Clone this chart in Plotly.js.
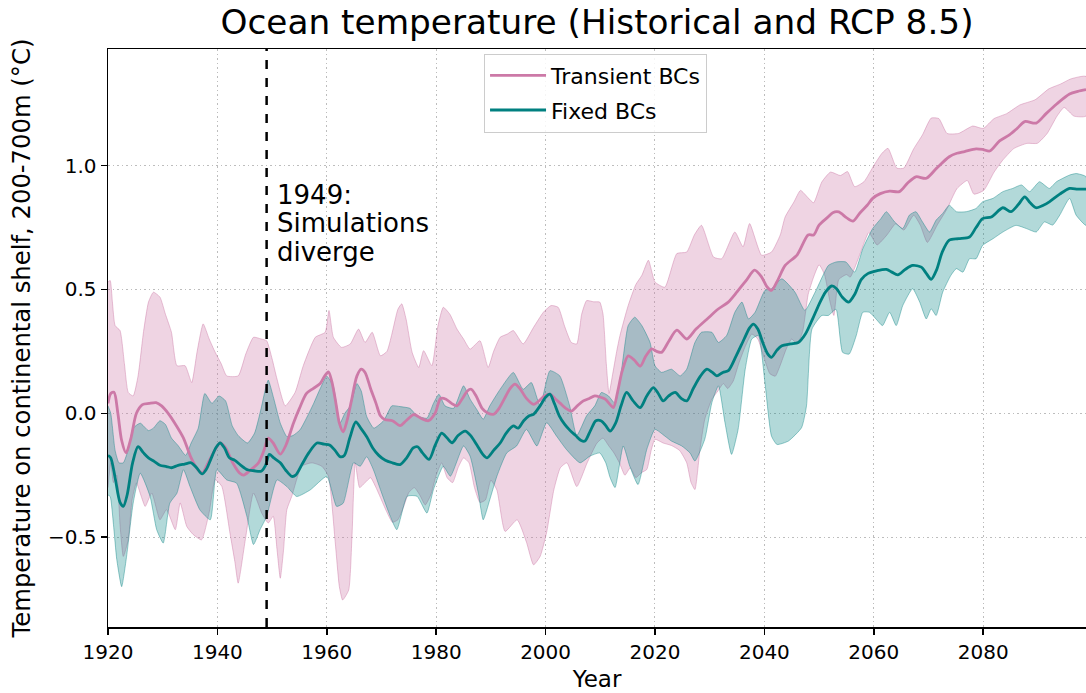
<!DOCTYPE html>
<html>
<head>
<meta charset="utf-8">
<script src="https://cdn.plot.ly/plotly-3.0.1.min.js"></script>
<style>html,body{margin:0;padding:0;background:#fff;}#chart{width:1086px;height:693px;}</style>
</head>
<body>
<div id="chart"></div>
<script>
// ---- Transient BCs (pink) ----
const transientMeanYears = [1920.0,1920.5,1921.1,1921.8,1922.5,1923.3,1924.2,1925.2,1926.3,1927.5,1928.8,1929.8,1931.0,1932.5,1933.8,1935.2,1936.5,1937.3,1938.3,1939.5,1940.5,1941.5,1942.8,1944.0,1944.8,1946.0,1947.5,1948.5,1949.3,1950.2,1951.5,1952.5,1953.9,1955.0,1956.3,1957.5,1958.8,1959.6,1960.3,1960.9,1961.6,1962.3,1963.0,1963.7,1964.5,1965.5,1966.3,1967.0,1968.0,1969.0,1969.8,1970.6,1972.0,1973.4,1974.5,1975.9,1977.2,1978.6,1979.8,1980.8,1981.8,1982.8,1983.8,1984.8,1985.7,1986.4,1987.3,1988.4,1989.5,1990.5,1991.5,1992.5,1993.5,1994.4,1995.3,1996.5,1997.8,1998.8,1999.8,2000.8,2001.7,2002.7,2003.7,2004.7,2005.8,2006.9,2008.0,2009.0,2010.0,2010.9,2011.8,2012.4,2013.2,2014.0,2015.1,2016.2,2017.3,2018.3,2019.4,2020.3,2021.2,2022.5,2024.0,2025.8,2027.5,2029.5,2031.5,2033.4,2035.0,2036.8,2038.2,2039.5,2040.5,2041.3,2042.5,2043.8,2046.0,2048.0,2049.0,2050.0,2051.5,2052.5,2053.6,2055.0,2056.2,2057.5,2058.8,2059.8,2061.2,2062.9,2064.7,2066.2,2067.7,2069.6,2071.5,2073.8,2075.2,2076.6,2078.7,2080.0,2081.2,2083.0,2084.8,2086.2,2087.6,2089.7,2091.5,2093.5,2095.8,2097.3,2098.8];
const transientMean = [0.04,0.08,0.085,0.0,-0.11,-0.16,-0.1,0.0,0.035,0.04,0.043,0.03,0.0,-0.05,-0.1,-0.18,-0.23,-0.24,-0.2,-0.15,-0.12,-0.14,-0.2,-0.24,-0.25,-0.23,-0.2,-0.15,-0.1,-0.12,-0.165,-0.13,-0.04,0.02,0.08,0.1,0.12,0.15,0.167,0.13,0.05,-0.04,-0.075,-0.03,0.05,0.15,0.178,0.165,0.1,0.04,-0.01,-0.025,-0.03,-0.05,-0.03,-0.005,-0.02,-0.03,0.0,0.06,0.057,0.04,0.03,0.06,0.09,0.097,0.07,0.02,0.0,-0.004,0.02,0.06,0.1,0.118,0.1,0.06,0.036,0.05,0.07,0.077,0.06,0.04,0.02,0.009,0.03,0.05,0.06,0.07,0.065,0.057,0.035,0.023,0.09,0.17,0.232,0.215,0.19,0.23,0.26,0.25,0.246,0.29,0.336,0.3,0.34,0.38,0.42,0.449,0.49,0.54,0.578,0.55,0.51,0.496,0.54,0.597,0.64,0.72,0.72,0.76,0.79,0.81,0.813,0.79,0.776,0.81,0.84,0.868,0.887,0.897,0.895,0.93,0.955,0.949,0.99,1.036,1.05,1.057,1.068,1.065,1.059,1.1,1.124,1.15,1.178,1.172,1.21,1.25,1.289,1.3,1.307];

const transientUpperYears = [1920.0,1920.4,1920.8,1921.3,1922.2,1923.0,1923.7,1924.6,1925.5,1926.5,1927.4,1928.3,1929.5,1930.5,1931.6,1932.6,1934.1,1935.3,1936.3,1937.4,1938.5,1939.6,1940.7,1941.7,1943.8,1945.2,1946.6,1948.0,1949.0,1950.0,1950.9,1952.4,1954.2,1955.7,1957.9,1959.7,1960.4,1961.2,1962.7,1964.3,1965.8,1967.0,1968.3,1969.8,1971.0,1971.9,1973.0,1973.7,1974.5,1975.6,1976.8,1977.7,1979.2,1980.3,1981.3,1982.5,1983.8,1985.0,1986.2,1988.0,1989.5,1990.5,1991.7,1993.0,1994.1,1995.9,1997.8,1999.6,2001.0,2002.3,2003.5,2004.7,2005.7,2006.6,2007.5,2008.8,2009.9,2010.5,2011.1,2011.6,2012.2,2013.0,2013.6,2015.1,2016.5,2017.6,2018.8,2020.0,2021.8,2024.0,2025.8,2027.2,2028.5,2030.7,2032.2,2034.6,2036.1,2037.3,2039.5,2041.3,2042.9,2043.8,2045.4,2046.6,2048.0,2049.0,2050.5,2052.1,2053.9,2055.2,2056.5,2058.2,2060.0,2061.5,2062.6,2064.2,2065.5,2067.3,2068.9,2070.5,2071.9,2073.4,2075.5,2078.1,2080.0,2082.0,2084.3,2086.7,2089.5,2092.0,2094.2,2096.0,2098.8];
const transientUpper = [0.53,0.536,0.45,0.354,0.334,0.2,0.084,0.07,0.151,0.33,0.449,0.489,0.469,0.4,0.327,0.192,0.192,0.124,0.25,0.361,0.3,0.246,0.2,0.151,0.151,0.24,0.307,0.3,0.293,0.22,0.138,0.03,0.084,0.192,0.307,0.327,0.415,0.307,0.266,0.28,0.34,0.286,0.327,0.232,0.25,0.32,0.42,0.442,0.38,0.246,0.185,0.253,0.192,0.35,0.428,0.4,0.34,0.3,0.259,0.293,0.185,0.25,0.307,0.32,0.334,0.28,0.347,0.408,0.435,0.428,0.35,0.286,0.28,0.4,0.455,0.45,0.449,0.4,0.2,0.08,0.15,0.25,0.314,0.435,0.52,0.557,0.618,0.53,0.509,0.645,0.651,0.72,0.759,0.631,0.624,0.732,0.672,0.766,0.638,0.651,0.72,0.793,0.853,0.9,0.87,0.85,0.934,0.974,0.96,0.976,0.915,0.935,1.0,1.05,1.07,0.99,0.99,1.068,1.124,1.192,1.19,1.13,1.13,1.16,1.15,1.19,1.21,1.245,1.266,1.31,1.33,1.35,1.36];

const transientLowerYears = [1920.0,1920.5,1921.0,1921.6,1922.2,1922.8,1923.7,1924.4,1925.2,1926.0,1926.8,1928.0,1929.5,1930.7,1932.3,1933.2,1934.4,1935.6,1937.1,1938.5,1939.6,1940.8,1942.3,1943.2,1943.8,1945.1,1946.6,1948.1,1949.3,1950.2,1950.9,1951.5,1952.1,1952.7,1953.6,1955.4,1957.3,1959.1,1960.3,1961.5,1962.3,1962.9,1964.0,1964.6,1965.2,1966.0,1967.0,1968.0,1969.0,1970.0,1971.0,1972.0,1973.0,1974.0,1975.0,1976.0,1977.0,1978.0,1979.0,1980.0,1981.0,1982.0,1983.0,1984.0,1985.0,1986.0,1987.0,1988.0,1989.0,1990.0,1991.1,1992.6,1994.8,1996.5,1997.8,1999.0,2000.2,2001.5,2002.7,2003.9,2005.7,2007.6,2009.4,2010.5,2011.5,2012.5,2013.5,2014.5,2015.5,2016.5,2017.5,2018.5,2019.3,2020.0,2021.5,2023.0,2024.5,2025.8,2026.6,2027.3,2028.2,2029.1,2030.4,2031.5,2032.5,2033.3,2034.3,2035.3,2036.5,2037.7,2038.8,2040.0,2041.0,2042.0,2043.0,2044.0,2045.0,2046.0,2047.0,2048.0,2049.0,2050.0,2051.0,2052.0,2052.7,2053.6,2055.0,2055.7,2057.6,2059.1,2060.6,2062.4,2064.0,2065.5,2067.3,2068.5,2069.8,2071.6,2073.4,2075.2,2077.1,2078.3,2080.1,2082.0,2083.5,2085.6,2088.0,2089.9,2091.7,2093.5,2094.8,2096.6,2098.8];
const transientLower = [-0.3,-0.2,-0.28,-0.25,-0.45,-0.578,-0.511,-0.35,-0.281,-0.33,-0.376,-0.322,-0.43,-0.389,-0.47,-0.362,-0.457,-0.49,-0.511,-0.4,-0.268,-0.295,-0.484,-0.6,-0.686,-0.511,-0.322,-0.403,-0.443,-0.416,-0.55,-0.666,-0.55,-0.389,-0.335,-0.214,-0.2,-0.214,-0.254,-0.511,-0.7,-0.754,-0.714,-0.5,-0.2,-0.3,-0.28,-0.26,-0.3,-0.35,-0.4,-0.44,-0.43,-0.38,-0.32,-0.3,-0.33,-0.37,-0.33,-0.25,-0.2,-0.26,-0.28,-0.22,-0.18,-0.2,-0.3,-0.36,-0.35,-0.27,-0.31,-0.477,-0.43,-0.52,-0.612,-0.578,-0.48,-0.31,-0.22,-0.2,-0.296,-0.2,-0.12,-0.1,-0.13,-0.16,-0.2,-0.25,-0.22,-0.26,-0.24,-0.227,-0.15,-0.105,-0.12,-0.13,-0.15,-0.2,-0.28,-0.308,-0.15,-0.024,0.057,0.09,0.12,0.1,0.13,0.2,0.27,0.32,0.3,0.22,0.16,0.15,0.2,0.26,0.3,0.28,0.33,0.48,0.55,0.6,0.56,0.45,0.395,0.54,0.56,0.55,0.65,0.73,0.68,0.72,0.765,0.74,0.8,0.76,0.69,0.76,0.826,0.907,0.94,0.885,0.9,0.974,1.02,1.069,1.09,1.09,1.13,1.2,1.235,1.2,1.2];

// ---- Fixed BCs (teal) ----
const fixedMeanYears = [1920.0,1920.5,1921.3,1922.2,1922.8,1923.5,1924.5,1925.5,1926.5,1927.4,1928.5,1929.5,1930.7,1931.6,1932.8,1934.0,1935.2,1936.2,1937.2,1938.0,1938.8,1939.7,1940.5,1941.3,1942.2,1943.2,1944.3,1945.5,1946.7,1948.0,1948.8,1949.5,1950.3,1951.5,1952.5,1953.6,1954.3,1955.5,1956.7,1958.2,1959.5,1960.5,1961.5,1962.4,1963.2,1964.2,1965.3,1966.2,1967.3,1968.4,1969.5,1970.7,1972.0,1973.4,1974.6,1975.8,1976.6,1977.5,1978.7,1979.8,1981.0,1982.0,1982.9,1984.0,1985.3,1986.3,1987.5,1988.5,1989.3,1990.5,1991.7,1992.8,1994.1,1995.0,1996.0,1997.0,1997.8,1999.0,2000.0,2000.8,2001.6,2002.5,2003.5,2004.5,2005.5,2006.5,2007.2,2008.2,2009.2,2010.2,2011.0,2011.8,2012.8,2013.8,2014.8,2016.0,2017.3,2018.5,2019.7,2020.6,2021.5,2022.5,2023.7,2024.8,2025.8,2027.0,2028.3,2029.5,2030.5,2031.3,2032.4,2033.4,2034.8,2036.3,2037.3,2038.0,2038.8,2039.8,2040.6,2041.3,2042.3,2043.2,2044.8,2046.2,2047.5,2048.8,2050.0,2051.2,2052.3,2053.2,2054.2,2055.4,2056.5,2057.7,2058.9,2060.5,2062.3,2063.3,2064.4,2065.7,2067.1,2068.7,2069.6,2070.5,2071.5,2072.5,2073.8,2075.5,2077.5,2078.7,2079.9,2081.5,2083.6,2085.1,2086.5,2087.6,2088.6,2089.7,2091.0,2092.1,2094.0,2095.8,2097.3,2098.8];
const fixedMean = [-0.17,-0.18,-0.26,-0.36,-0.376,-0.33,-0.2,-0.135,-0.16,-0.18,-0.195,-0.21,-0.215,-0.22,-0.21,-0.205,-0.2,-0.22,-0.245,-0.225,-0.185,-0.14,-0.12,-0.14,-0.18,-0.19,-0.21,-0.228,-0.232,-0.234,-0.21,-0.166,-0.18,-0.2,-0.23,-0.255,-0.25,-0.205,-0.16,-0.12,-0.125,-0.128,-0.15,-0.175,-0.17,-0.1,-0.035,-0.06,-0.095,-0.14,-0.17,-0.19,-0.2,-0.207,-0.18,-0.14,-0.135,-0.16,-0.186,-0.13,-0.08,-0.1,-0.119,-0.09,-0.072,-0.09,-0.13,-0.165,-0.18,-0.15,-0.12,-0.08,-0.051,-0.06,-0.03,-0.01,-0.004,0.03,0.065,0.077,0.04,-0.01,-0.045,-0.07,-0.09,-0.11,-0.112,-0.07,-0.03,-0.031,-0.05,-0.072,-0.04,0.03,0.084,0.05,0.023,0.07,0.104,0.08,0.05,0.07,0.084,0.06,0.05,0.1,0.15,0.178,0.165,0.151,0.165,0.172,0.23,0.3,0.345,0.36,0.34,0.28,0.24,0.226,0.255,0.273,0.28,0.286,0.32,0.38,0.44,0.49,0.514,0.503,0.47,0.449,0.48,0.54,0.564,0.575,0.581,0.57,0.559,0.58,0.597,0.59,0.565,0.541,0.58,0.65,0.699,0.705,0.712,0.75,0.786,0.793,0.83,0.814,0.845,0.874,0.85,0.83,0.84,0.854,0.885,0.908,0.905,0.905];

const fixedUpperYears = [1920.0,1920.5,1921.3,1922.0,1922.8,1923.7,1924.6,1925.9,1927.4,1928.3,1929.5,1930.5,1931.6,1932.8,1934.2,1935.2,1936.5,1937.7,1939.0,1940.3,1941.5,1942.7,1943.8,1945.5,1946.8,1948.0,1948.8,1949.3,1950.3,1951.5,1952.7,1953.8,1955.1,1956.5,1957.6,1958.8,1960.0,1961.2,1962.4,1963.3,1964.3,1965.5,1966.3,1967.3,1968.6,1970.4,1971.9,1973.4,1975.2,1976.5,1978.3,1979.5,1980.5,1981.6,1983.2,1985.0,1986.2,1987.4,1988.6,1989.8,1991.7,1994.1,1995.9,1997.4,1999.0,2000.8,2002.6,2004.4,2005.7,2007.5,2009.0,2010.2,2011.5,2012.7,2013.9,2015.1,2016.3,2017.6,2019.1,2020.0,2021.2,2023.0,2024.6,2025.8,2027.3,2028.5,2030.4,2031.6,2033.1,2034.6,2035.9,2037.1,2038.3,2040.1,2041.3,2043.2,2045.6,2047.4,2049.3,2051.7,2053.1,2054.9,2056.5,2058.0,2059.8,2061.3,2062.3,2063.8,2065.3,2066.5,2067.7,2068.9,2070.2,2071.4,2072.6,2073.8,2075.1,2076.9,2078.7,2079.9,2081.8,2083.6,2085.4,2087.0,2088.5,2090.3,2092.1,2093.4,2095.8,2097.0,2098.8];
const fixedUpper = [0.03,0.0,-0.15,-0.2,-0.2,-0.146,-0.06,-0.04,-0.07,-0.06,-0.03,-0.045,-0.1,-0.13,-0.17,-0.12,-0.06,0.08,0.04,0.07,0.05,-0.05,-0.09,-0.12,-0.08,0.02,0.1,0.134,0.06,-0.04,-0.094,-0.09,-0.067,-0.01,0.04,0.1,0.15,0.108,-0.04,0.0,0.03,0.12,0.09,-0.013,-0.06,-0.03,0.03,0.027,0.02,-0.01,-0.02,0.04,0.077,0.03,0.02,0.111,0.057,0.016,-0.024,0.03,0.097,0.165,0.097,0.124,0.03,0.172,0.151,0.03,-0.09,-0.01,0.03,0.084,0.07,0.04,0.178,0.354,0.388,0.354,0.286,0.192,0.165,0.178,0.151,0.178,0.286,0.327,0.327,0.286,0.314,0.408,0.449,0.381,0.408,0.496,0.503,0.543,0.489,0.415,0.49,0.597,0.611,0.611,0.57,0.665,0.746,0.786,0.814,0.773,0.746,0.8,0.814,0.773,0.732,0.78,0.807,0.84,0.814,0.814,0.827,0.854,0.868,0.895,0.908,0.922,0.895,0.935,0.908,0.935,0.962,0.968,0.955];

const fixedLowerYears = [1920.0,1920.4,1921.0,1921.6,1922.5,1923.4,1924.6,1925.9,1927.7,1928.9,1930.1,1931.3,1932.6,1933.8,1935.0,1936.8,1938.7,1939.9,1941.7,1943.5,1945.4,1946.6,1947.8,1949.0,1950.9,1952.7,1954.5,1957.0,1960.0,1961.8,1963.0,1964.9,1966.1,1967.3,1968.5,1969.8,1971.6,1972.8,1974.7,1976.5,1978.3,1979.5,1981.3,1982.6,1985.0,1986.2,1987.7,1988.6,1989.8,1991.1,1992.9,1994.7,1996.5,1998.4,2000.2,2002.0,2003.8,2006.3,2008.1,2009.9,2011.0,2011.8,2012.7,2014.2,2015.4,2016.9,2018.5,2020.0,2021.8,2023.0,2024.9,2026.4,2027.3,2029.1,2030.4,2031.6,2032.8,2034.0,2035.2,2036.5,2037.7,2038.9,2040.1,2041.3,2042.3,2044.4,2046.8,2047.7,2048.7,2050.5,2051.7,2053.1,2054.3,2055.5,2056.8,2058.0,2059.2,2060.4,2061.6,2062.9,2064.1,2065.3,2067.1,2068.4,2069.6,2070.5,2071.4,2072.6,2074.1,2075.1,2076.3,2077.5,2078.7,2079.9,2081.8,2083.6,2086.0,2087.9,2089.7,2091.2,2092.7,2094.0,2095.8,2097.0,2098.8];
const fixedLower = [-0.33,-0.336,-0.45,-0.59,-0.7,-0.578,-0.363,-0.242,-0.336,-0.47,-0.524,-0.363,-0.323,-0.228,-0.296,-0.39,-0.43,-0.228,-0.269,-0.282,-0.417,-0.53,-0.47,-0.417,-0.269,-0.296,-0.336,-0.309,-0.255,-0.376,-0.363,-0.2,-0.214,-0.175,-0.227,-0.308,-0.416,-0.47,-0.335,-0.335,-0.403,-0.308,-0.214,-0.254,-0.132,-0.173,-0.322,-0.43,-0.349,-0.254,-0.16,-0.132,-0.065,-0.132,-0.038,-0.092,-0.146,-0.2,-0.173,-0.16,-0.2,-0.26,-0.3,-0.132,-0.214,-0.288,-0.146,-0.065,-0.092,-0.112,-0.132,-0.16,-0.193,-0.105,0.043,0.111,-0.038,-0.166,-0.065,0.178,0.3,0.314,0.124,-0.092,-0.126,-0.112,-0.058,0.03,0.34,0.395,0.395,0.42,0.246,0.239,0.314,0.408,0.408,0.381,0.354,0.408,0.354,0.435,0.503,0.449,0.381,0.422,0.395,0.489,0.557,0.584,0.57,0.624,0.624,0.678,0.705,0.732,0.759,0.746,0.732,0.773,0.76,0.8,0.868,0.8,0.759];

// ---- Axis ticks and labels ----
const xTickVals = [1920,1940,1960,1980,2000,2020,2040,2060,2080];
const yTickVals = [-0.5,0.0,0.5,1.0];
const yTickText = ['\u22120.5','0.0','0.5','1.0'];
const divergeYear = 1949;
const seriesNames = ['Transient BCs','Fixed BCs'];

const PINK = '#CC79A7';
const TEAL = '#008080';
const FONT = 'DejaVu Sans, sans-serif';

function band(upX, upY, loX, loY, fillColor, edgeColor){
  return {
    x: upX.concat(loX.slice().reverse()),
    y: upY.concat(loY.slice().reverse()),
    type: 'scatter', mode: 'lines', fill: 'toself',
    fillcolor: fillColor,
    line: {color: edgeColor, width: 1, shape: 'spline', smoothing: 0.5},
    hoverinfo: 'skip', showlegend: false
  };
}

const traces = [
  band(transientUpperYears, transientUpper, transientLowerYears, transientLower, 'rgba(204,121,167,0.32)', 'rgba(204,121,167,0.45)'),
  band(fixedUpperYears, fixedUpper, fixedLowerYears, fixedLower, 'rgba(0,128,128,0.30)', 'rgba(0,128,128,0.40)'),
  {x: transientMeanYears, y: transientMean, type: 'scatter', mode: 'lines', name: seriesNames[0],
   legendgroup: 'a', line: {color: PINK, width: 2.8, shape: 'spline', smoothing: 0.8}},
  {x: fixedMeanYears, y: fixedMean, type: 'scatter', mode: 'lines', name: seriesNames[1],
   legendgroup: 'b', line: {color: TEAL, width: 2.8, shape: 'spline', smoothing: 0.8}}
];

const axisCommon = {
  showline: true, linecolor: '#000', linewidth: 1.5,
  ticks: 'outside', ticklen: 6, tickwidth: 1.5, tickcolor: '#000',
  showgrid: true, gridcolor: '#bdbdbd', gridwidth: 1, griddash: '1.5px,3px',
  zeroline: false, tickfont: {family: FONT, size: 20, color: '#000'}
};

const layout = {
  width: 1086, height: 693,
  margin: {l: 108, r: 0, t: 49, b: 66},
  paper_bgcolor: '#fff', plot_bgcolor: '#fff',
  font: {family: FONT, color: '#000'},
  title: {text: 'Ocean temperature (Historical and RCP 8.5)', font: {family: FONT, size: 34.3, color: '#000'},
          x: 0.5, xref: 'paper', xanchor: 'center', y: 0.968, yref: 'container', yanchor: 'middle'},
  xaxis: Object.assign({}, axisCommon, {
    range: [1920, 2098.8], tickvals: xTickVals, mirror: true,
    title: {text: 'Year', font: {family: FONT, size: 23, color: '#000'}, standoff: 8}
  }),
  yaxis: Object.assign({}, axisCommon, {
    range: [-0.863, 1.471], tickvals: yTickVals, ticktext: yTickText,
    title: {text: 'Temperature on continental shelf, 200-700m (°C)', font: {family: FONT, size: 24.3, color: '#000'}, standoff: 10}
  }),
  legend: {x: 0.3845, y: 0.992, xanchor: 'left', yanchor: 'top',
           bgcolor: 'rgba(255,255,255,0.85)', bordercolor: '#cccccc', borderwidth: 1,
           font: {family: FONT, size: 22, color: '#000'}, itemwidth: 56,
           traceorder: 'grouped', tracegroupgap: 3},
  shapes: [{type: 'line', xref: 'x', yref: 'paper', x0: divergeYear, x1: divergeYear, y0: 0, y1: 1,
            line: {color: '#000', width: 2.5, dash: 'dash'}, layer: 'above'}],
  annotations: [
    {text: '1949:', xref: 'paper', yref: 'paper', x: 0.171, y: 0.7474, xanchor: 'left', yanchor: 'middle', showarrow: false, font: {family: FONT, size: 26, color: '#000'}},
    {text: 'Simulations', xref: 'paper', yref: 'paper', x: 0.171, y: 0.6985, xanchor: 'left', yanchor: 'middle', showarrow: false, font: {family: FONT, size: 26, color: '#000'}},
    {text: 'diverge', xref: 'paper', yref: 'paper', x: 0.171, y: 0.6493, xanchor: 'left', yanchor: 'middle', showarrow: false, font: {family: FONT, size: 26, color: '#000'}}
  ],
  showlegend: true
};

Plotly.newPlot('chart', traces, layout, {displayModeBar: false, staticPlot: true});
</script>
</body>
</html>
